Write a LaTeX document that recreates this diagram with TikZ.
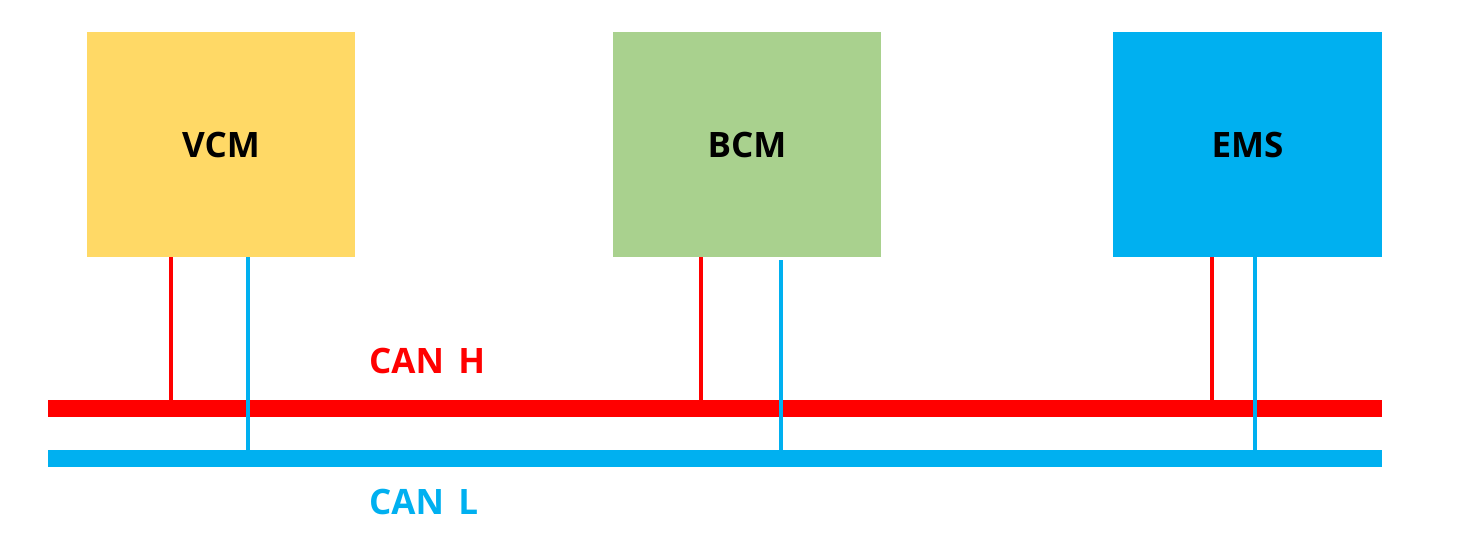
\documentclass[tikz,border=0pt]{standalone}
\usepackage{fontspec}
\setmainfont{Open Sans}
\definecolor{canred}{HTML}{FF0000}
\definecolor{canblue}{HTML}{00B0F0}
\definecolor{vcmfill}{HTML}{FFD966}
\definecolor{bcmfill}{HTML}{A9D18E}
\definecolor{emsfill}{HTML}{00B0F0}
\tikzset{
  ecu/.style={draw=none, minimum width=268pt, minimum height=225pt, inner sep=0pt,
    font=\fontsize{35pt}{40pt}\selectfont\bfseries, text=black},
  hwire/.style={canred, line width=4pt},
  lwire/.style={canblue, line width=4pt},
  hbus/.style={canred, line width=17pt},
  lbus/.style={canblue, line width=16.5pt},
  buslabel/.style={anchor=west, inner sep=0pt, font=\fontsize{35pt}{40pt}\selectfont\bfseries}
}
\begin{document}
\begin{tikzpicture}[x=1pt,y=-1pt]
\useasboundingbox (0,0) rectangle (1469,549);
\node[ecu, fill=vcmfill] (vcm) at (221,144.5) {VCM};
\node[ecu, fill=bcmfill] (bcm) at (747,144.5) {BCM};
\node[ecu, fill=emsfill, minimum width=269pt] (ems) at (1247.5,144.5) {EMS};

\coordinate (hL) at (48,408);
\coordinate (hR) at (1382,408);
\coordinate (lL) at (48,458.3);
\coordinate (lR) at (1382,458.3);

\coordinate (h1) at (171,408);
\coordinate (h2) at (701,408);
\coordinate (h3) at (1212,408);
\coordinate (l1) at (248,452);
\coordinate (l2) at (781,452);
\coordinate (l3) at (1255,452);
\coordinate (l2top) at (781,260);

\draw[hbus] (hL) -- (hR);
\draw[hwire] (vcm.south -| h1) -- (h1);
\draw[hwire] (bcm.south -| h2) -- (h2);
\draw[hwire] (ems.south -| h3) -- (h3);
\draw[lwire] (vcm.south -| l1) -- (l1);
\draw[lwire] (l2top) -- (l2);
\draw[lwire] (ems.south -| l3) -- (l3);
\draw[lbus] (lL) -- (lR);

\node[buslabel, text=canred] (canh) at (369,361) {CAN\hspace{0.15em} H};
\node[buslabel, text=canblue] (canl) at (369,502) {CAN\hspace{0.15em} L};
\end{tikzpicture}
\end{document}
